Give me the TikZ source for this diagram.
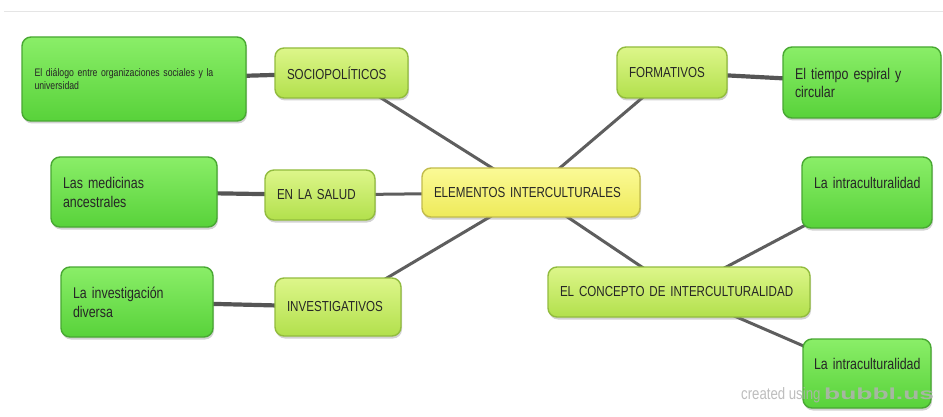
\documentclass[tikz,border=0pt]{standalone}
\usepackage{fontspec}
\setmainfont{Liberation Sans}[FakeStretch=0.8]
\newfontfamily\logofont{Liberation Sans}
\usetikzlibrary{shadows,backgrounds}
\newcommand\boxfont[2]{\fontsize{#1}{#2}\selectfont\spaceskip=0.22em plus 0.08em minus 0.04em\relax}
\definecolor{leaftop}{HTML}{8AEE68}
\definecolor{leafbot}{HTML}{58D23A}
\definecolor{leafdraw}{HTML}{48A832}
\definecolor{brtop}{HTML}{DDF68A}
\definecolor{brbot}{HTML}{B2E04C}
\definecolor{brdraw}{HTML}{92BC3E}
\definecolor{cttop}{HTML}{FBFA96}
\definecolor{ctbot}{HTML}{EEEA5A}
\definecolor{ctdraw}{HTML}{C2BC4C}
\definecolor{linkcol}{HTML}{5E5E5E}
\tikzset{
  boxbase/.style={rectangle, rounded corners=9pt, line width=1.4pt, inner xsep=12pt, inner ysep=2pt,
    align=left, font=\boxfont{14.5}{19}, text=black!85,
    drop shadow={opacity=0.35, shadow xshift=1pt, shadow yshift=-2.5pt}},
  leafbox/.style={boxbase, top color=leaftop, bottom color=leafbot, draw=leafdraw},
  branchbox/.style={boxbase, top color=brtop, bottom color=brbot, draw=brdraw},
  centerbox/.style={boxbase, top color=cttop, bottom color=ctbot, draw=ctdraw},
  mainlink/.style={draw=linkcol, line width=3pt},
  leaflink/.style={draw=linkcol!90!black, line width=4.2pt}
}
\begin{document}
\begin{tikzpicture}[x=1pt,y=-1pt]
\useasboundingbox (0,0) rectangle (943,417);

% nodes
\node[leafbox, minimum width=224pt, minimum height=84pt, text width=199pt, inner xsep=12.5pt,
      font=\boxfont{10.9}{12.5}] (dialog) at (134,79)
      {El diálogo entre organizaciones sociales y la\\universidad};
\node[branchbox, minimum width=133pt, minimum height=50pt, text width=109pt] (socio) at (341.5,73) {SOCIOPOLÍTICOS};
\node[branchbox, minimum width=110pt, minimum height=51pt, text width=86pt] (form) at (672,72.5) {FORMATIVOS};
\node[leafbox, minimum width=158pt, minimum height=71pt, text width=134pt, font=\boxfont{15.5}{18}] (tiempo) at (862,82.5) {El tiempo espiral y\\circular};
\node[leafbox, minimum width=166pt, minimum height=70pt, text width=142pt, font=\boxfont{15.5}{19}] (medic) at (134,192) {Las medicinas\\ancestrales};
\node[branchbox, minimum width=110pt, minimum height=50pt, text width=86pt] (salud) at (320,195) {EN LA SALUD};
\node[centerbox, minimum width=218pt, minimum height=49pt, text width=194pt] (center) at (531,192.5) {ELEMENTOS INTERCULTURALES};
\node[leafbox, minimum width=130pt, minimum height=71pt, text width=106pt, font=\boxfont{15.5}{19}] (intraA) at (867,192.5) {\mbox{La intraculturalidad}\\\mbox{}};
\node[leafbox, minimum width=152pt, minimum height=70pt, text width=128pt, font=\boxfont{15.5}{19}] (invdiv) at (137,302) {La investigación\\diversa};
\node[branchbox, minimum width=126pt, minimum height=58pt, text width=102pt] (invest) at (338,307) {INVESTIGATIVOS};
\node[branchbox, minimum width=262pt, minimum height=50pt, text width=238pt] (concept) at (679,292) {EL CONCEPTO DE INTERCULTURALIDAD};
\node[leafbox, minimum width=128pt, minimum height=69pt, text width=106pt, inner xsep=11pt, font=\boxfont{15.5}{19}] (intraB) at (867,373.5) {\mbox{La intraculturalidad}\\\mbox{}};

% background and connectors behind
\begin{scope}[on background layer]
\fill[white] (0,0) rectangle (943,417);
\draw[black!10, line width=0.8pt] (4,11) -- (943,11);
\draw[mainlink] (center.center) -- (socio.center);
\draw[mainlink] (center.center) -- (form.center);
\draw[mainlink] (center.center) -- (salud.center);
\draw[mainlink] (center.center) -- (invest.center);
\draw[mainlink] (center.center) -- (concept.center);
\draw[mainlink] (concept.center) -- (intraA.center);
\draw[mainlink] (concept.center) -- (intraB.center);
\draw[leaflink] (socio.center) -- (dialog.center);
\draw[leaflink] (form.center) -- (tiempo.center);
\draw[leaflink] (salud.center) -- (medic.center);
\draw[leaflink] (invest.center) -- (invdiv.center);
\end{scope}

% watermark
\node[anchor=base west, inner sep=0pt, text=black!30, opacity=0.85, font=\fontsize{16.5}{18}\selectfont] (credit) at (741,399)
  {created using \scalebox{1.65}[1.0]{\logofont\bfseries\fontsize{16}{18}\selectfont bubbl.us}};
\end{tikzpicture}
\end{document}
